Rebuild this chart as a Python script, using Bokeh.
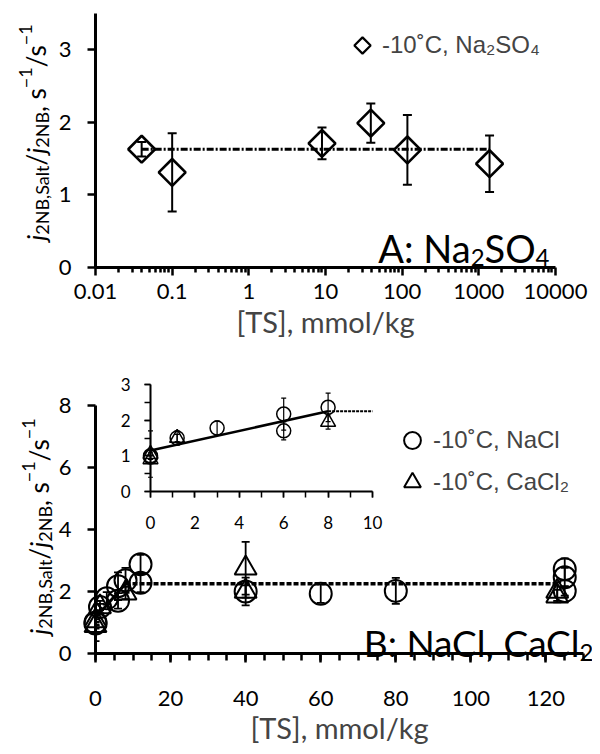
import glob
import os
import numpy as np
from bokeh.plotting import figure
from bokeh.layouts import column
from bokeh.core.properties import value
from bokeh.models import (ColumnDataSource, Whisker, TeeHead, Legend, LegendItem,
                          Range1d, LinearAxis, LinearScale, FixedTicker, SingleIntervalTicker,
                          PrintfTickFormatter)
from bokeh.embed import file_html
from bokeh.resources import INLINE

# ---------------- data ----------------
# Panel A: Na2SO4 at -10 C (log x axis)
a_ts = [0.04, 0.1, 9, 39, 117, 1380]
a_ratio = [1.63, 1.31, 1.71, 1.99, 1.62, 1.43]
a_err = [0.10, 0.54, 0.22, 0.27, 0.48, 0.39]
a_mean = 1.63
a_ticks = [0.01, 0.1, 1, 10, 100, 1000, 10000]
a_tick_labels = ["0.01", "0.1", "1", "10", "100", "1000", "10000"]
a_ymax_axis = 3.5

# Panel B: NaCl and CaCl2 at -10 C
nacl_ts = [0, 0, 1.2, 3, 6, 6, 8, 12, 12, 40, 60, 80, 125, 125, 125]
nacl_ratio = [1.0, 0.97, 1.5, 1.78, 2.17, 1.70, 2.36, 2.88, 2.28, 2.0, 1.93, 2.02, 2.72, 2.46, 2.02]
nacl_err = [0.10, 0.05, 0.10, 0.20, 0.45, 0.25, 0.40, 0.30, 0.30, 0.20, 0.30, 0.42, 0.35, 0.30, 0.15]
cacl2_ts = [0, 0, 1.2, 8, 40, 40, 123, 123]
cacl2_ratio = [1.05, 0.90, 1.5, 1.95, 2.75, 2.0, 2.0, 1.85]
cacl2_err = [0.65, 0.10, 0.20, 0.20, 0.85, 0.45, 0.30, 0.20]
fit_ts = [0, 8]
fit_ratio = [1.15, 2.25]
plateau_ts = [8, 123]
plateau_ratio = 2.25
b_xmax = 130
b_ymax_axis = 8
inset_max_ts = 10
inset_max_ratio = 3

X_LABEL = "[TS], mmol/kg"
LEG_A = "-10\u02daC, Na\u2082SO\u2084"
LEG_NACL = "-10\u02daC, NaCl"
LEG_CACL2 = "-10\u02daC, CaCl\u2082"

FONT = "Lato"
TICK_SIZE = "22px"

# ---------------- text measuring (for composed sub/superscript labels) ----------------
_cache = {}


def _font_path(style):
    name = "Lato-Italic.ttf" if style == "italic" else "Lato-Regular.ttf"
    if name in _cache:
        return _cache[name]
    path = None
    for root in ("/usr/share/fonts", "/usr/local/share/fonts",
                 os.path.expanduser("~/.fonts"), os.path.expanduser("~/.local/share/fonts")):
        hits = glob.glob(os.path.join(root, "**", name), recursive=True)
        if hits:
            path = hits[0]
            break
    _cache[name] = path
    return path


def text_width(text, size, style="normal"):
    try:
        from PIL import ImageFont
        path = _font_path(style)
        if path:
            return ImageFont.truetype(path, size).getlength(text)
    except Exception:
        pass
    return 0.55 * size * len(text)


def parts_width(parts):
    return sum(text_width(t, s, st) for t, s, st, _ in parts)


def rich_text(p, parts, x0, y0, rotated=False, center=False):
    """Compose text with sub/superscripts. Coordinates are pixels from the frame's
    bottom-left corner (through the 'px'/'py' ranges)."""
    adv = -parts_width(parts) / 2 if center else 0.0
    d = dict(x=[], y=[], text=[], size=[], style=[])
    for text, size, style, shift in parts:
        if rotated:
            d["x"].append(x0 - shift)
            d["y"].append(y0 + adv)
        else:
            d["x"].append(x0 + adv)
            d["y"].append(y0 + shift)
        d["text"].append(text)
        d["size"].append(f"{size}px")
        d["style"].append(style)
        adv += text_width(text, size, style)
    p.text("x", "y", text="text", source=ColumnDataSource(d), angle=np.pi / 2 if rotated else 0,
           text_font=value(FONT), text_font_size="size", text_font_style="style",
           text_align="left", text_baseline="alphabetic", text_color="black",
           x_range_name="px", y_range_name="py", level="overlay")


def y_label_parts():
    F, S = 26, 18
    return [("j", F, "italic", 0), ("2NB,Salt", S, "normal", -6), ("/", F, "normal", 0),
            ("j", F, "italic", 0), ("2NB", S, "normal", -6), (", s", F, "normal", 0),
            ("\u22121", S, "normal", 10), ("/s", F, "normal", 0), ("\u22121", S, "normal", 10)]


def style_axis(ax, tick_out, minor_out, standoff, size=TICK_SIZE, lw=3, tlw=2.5):
    ax.axis_line_width = lw
    ax.axis_line_color = "black"
    ax.major_tick_line_width = tlw
    ax.major_tick_line_color = "black"
    ax.major_tick_in = 0
    ax.major_tick_out = tick_out
    ax.minor_tick_in = 0
    ax.minor_tick_out = minor_out
    ax.minor_tick_line_width = tlw
    ax.minor_tick_line_color = "black" if minor_out > 0 else None
    ax.major_label_text_font = FONT
    ax.major_label_text_font_size = size
    ax.major_label_text_color = "black"
    ax.major_label_standoff = standoff


def base_style(p, fw, fh):
    p.xgrid.visible = False
    p.ygrid.visible = False
    p.outline_line_color = None
    p.background_fill_color = "white"
    p.border_fill_color = "white"
    # pixel ranges for placing texts relative to the frame
    p.extra_x_ranges["px"] = Range1d(0, fw)
    p.extra_y_ranges["py"] = Range1d(0, fh)
    p.extra_x_scales = {"px": LinearScale()}
    p.extra_y_scales = {"py": LinearScale()}


# ---------------- panel A ----------------
FL1, FW1, FT1, FH1, FB1, FR1 = 95, 460, 13, 254, 84, 37
p1 = figure(x_axis_type="log", x_range=Range1d(0.01, 10000), y_range=Range1d(0, a_ymax_axis),
            frame_width=FW1, frame_height=FH1, min_border_left=FL1, min_border_right=FR1,
            min_border_top=FT1, min_border_bottom=FB1, title=None,
            output_backend="svg", toolbar_location=None)
base_style(p1, FW1, FH1)
minors = [m * 10.0 ** k for k in range(-2, 4) for m in range(2, 10)]
p1.xaxis.ticker = FixedTicker(ticks=a_ticks, minor_ticks=minors)
p1.xaxis.formatter = PrintfTickFormatter(format="%g")
p1.xaxis.major_label_overrides = {t: lab for t, lab in zip(a_ticks, a_tick_labels)}
p1.yaxis.ticker = SingleIntervalTicker(interval=1, num_minor_ticks=0)
style_axis(p1.xaxis[0], 8, 5, 8)
style_axis(p1.yaxis[0], 8, 0, 16)
p1.xaxis.axis_label = X_LABEL
p1.xaxis.axis_label_text_font = FONT
p1.xaxis.axis_label_text_font_size = "29px"
p1.xaxis.axis_label_text_font_style = "normal"
p1.xaxis.axis_label_standoff = 2
p1.yaxis.axis_label = None

src_a = ColumnDataSource(dict(x=a_ts, y=a_ratio,
                              lo=list(np.array(a_ratio) - np.array(a_err)),
                              hi=list(np.array(a_ratio) + np.array(a_err))))
p1.line([min(a_ts), max(a_ts)], [a_mean, a_mean], line_color="black", line_width=3,
        line_dash="7 2 2 2")
p1.add_layout(Whisker(source=src_a, base="x", lower="lo", upper="hi", dimension="height",
                      line_color="black", line_width=2,
                      upper_head=TeeHead(size=9, line_width=2, line_color="black"),
                      lower_head=TeeHead(size=9, line_width=2, line_color="black")))
p1.scatter("x", "y", source=src_a, marker="square", angle=np.pi / 4, size=19,
           fill_alpha=0, line_color="black", line_width=2.6, level="overlay")
# legend: text through a Legend, symbol drawn at the legend's glyph slot
LEG_A_X, LEG_A_Y, LEG_A_G = 247, 202, 40
r_a_leg = p1.scatter(x=[], y=[], marker="diamond", fill_alpha=0, line_color="black")
leg_a = Legend(items=[LegendItem(label=LEG_A, renderers=[r_a_leg])],
               location=(LEG_A_X, LEG_A_Y),
               glyph_width=LEG_A_G, glyph_height=LEG_A_G, label_standoff=-4, padding=0,
               margin=0, spacing=0, border_line_color=None, background_fill_alpha=0,
               label_text_font="Liberation Sans", label_text_font_size="24px")
p1.add_layout(leg_a)
p1.scatter(x=[LEG_A_X + LEG_A_G / 2], y=[LEG_A_Y + LEG_A_G / 2], marker="square",
           angle=np.pi / 4, size=11.5, fill_alpha=0, line_color="black", line_width=2.2,
           x_range_name="px", y_range_name="py", level="overlay")
rich_text(p1, y_label_parts(), 35 - FL1, 135, rotated=True, center=True)
a_parts = [("A: Na", 38, "normal", 0), ("2", 24, "normal", -10),
           ("SO", 38, "normal", 0), ("4", 24, "normal", -10)]
rich_text(p1, a_parts, 549 - FL1 - parts_width(a_parts), 20)

# ---------------- panel B ----------------
FL2, FW2, FT2, FH2, FB2, FR2 = 92, 488, 19, 283, 99, 12
px_per_y = 31.0
b_yend = FH2 / px_per_y
p2 = figure(x_range=Range1d(0, b_xmax), y_range=Range1d(0, b_yend),
            frame_width=FW2, frame_height=FH2, min_border_left=FL2, min_border_right=FR2,
            min_border_top=FT2, min_border_bottom=FB2, title=None,
            output_backend="svg", toolbar_location=None)
base_style(p2, FW2, FH2)
p2.xaxis.ticker = SingleIntervalTicker(interval=20, num_minor_ticks=4)
p2.yaxis.ticker = SingleIntervalTicker(interval=2, num_minor_ticks=0)
p2.yaxis.bounds = (0, b_ymax_axis)
style_axis(p2.xaxis[0], 9, 7, 28)
style_axis(p2.yaxis[0], 8, 0, 16)
p2.xaxis.axis_label = X_LABEL
p2.xaxis.axis_label_text_font = FONT
p2.xaxis.axis_label_text_font_size = "29px"
p2.xaxis.axis_label_text_font_style = "normal"
p2.xaxis.axis_label_standoff = 1
p2.yaxis.axis_label = None

# inset placement (pixels inside the lower frame)
IN_LEFT, IN_W, IN_BOTTOM, IN_H = 55, 222, 162, 107
ppx = IN_W / inset_max_ts
ppy = IN_H / inset_max_ratio
ix0 = -IN_LEFT / ppx
iy0 = -IN_BOTTOM / ppy
p2.extra_x_ranges["ix"] = Range1d(ix0, ix0 + FW2 / ppx)
p2.extra_y_ranges["iy"] = Range1d(iy0, iy0 + FH2 / ppy)
p2.extra_x_scales = {"px": LinearScale(), "ix": LinearScale()}
p2.extra_y_scales = {"py": LinearScale(), "iy": LinearScale()}


def make_src(xs, ys, es, limit=None):
    x = np.array(xs, float)
    y = np.array(ys, float)
    e = np.array(es, float)
    if limit is not None:
        m = x <= limit
        x, y, e = x[m], y[m], e[m]
    return ColumnDataSource(dict(x=x, y=y, lo=y - e, hi=y + e))


src_nacl = make_src(nacl_ts, nacl_ratio, nacl_err)
src_cacl = make_src(cacl2_ts, cacl2_ratio, cacl2_err)
src_nacl_in = make_src(nacl_ts, nacl_ratio, nacl_err, inset_max_ts)
src_cacl_in = make_src(cacl2_ts, cacl2_ratio, cacl2_err, inset_max_ts)

# main lines
p2.line(fit_ts, fit_ratio, line_color="black", line_width=3)
p2.line(plateau_ts, [plateau_ratio] * 2, line_color="black", line_width=3.5, line_dash="5 2")

for s in (src_nacl, src_cacl):
    p2.add_layout(Whisker(source=s, base="x", lower="lo", upper="hi", dimension="height",
                          line_color="black", line_width=1.8,
                          upper_head=TeeHead(size=8, line_width=1.8, line_color="black"),
                          lower_head=TeeHead(size=8, line_width=1.8, line_color="black")))
r_nacl = p2.scatter("x", "y", source=src_nacl, marker="circle", size=22, fill_alpha=0,
                    line_color="black", line_width=2, level="overlay")
r_cacl = p2.scatter("x", "y", source=src_cacl, marker="triangle", size=22, fill_alpha=0,
                    line_color="black", line_width=2, level="overlay")

# inset
inset_kw = dict(x_range_name="ix", y_range_name="iy")
p2.line(fit_ts, fit_ratio, line_color="black", line_width=2.5, **inset_kw)
p2.line([fit_ts[-1], inset_max_ts], [plateau_ratio] * 2, line_color="black", line_width=2,
        line_dash="3 1", **inset_kw)
for s in (src_nacl_in, src_cacl_in):
    p2.add_layout(Whisker(source=s, base="x", lower="lo", upper="hi", dimension="height",
                          line_color="black", line_width=1.2,
                          upper_head=TeeHead(size=5, line_width=1.2, line_color="black"),
                          lower_head=TeeHead(size=5, line_width=1.2, line_color="black"),
                          **inset_kw))
p2.scatter("x", "y", source=src_nacl_in, marker="circle", size=14, fill_alpha=0,
           line_color="black", line_width=1.5, level="overlay", **inset_kw)
p2.scatter("x", "y", source=src_cacl_in, marker="triangle", size=15, fill_alpha=0,
           line_color="black", line_width=1.5, level="overlay", **inset_kw)

ax_ix = LinearAxis(fixed_location=0, bounds=(0, inset_max_ts),
                   ticker=SingleIntervalTicker(interval=2, num_minor_ticks=2), **inset_kw)
style_axis(ax_ix, 6, 6, 18, size="17px", lw=2, tlw=1.5)
ax_iy = LinearAxis(fixed_location=0, bounds=(0, inset_max_ratio),
                   ticker=SingleIntervalTicker(interval=1, num_minor_ticks=2), **inset_kw)
style_axis(ax_iy, 6, 6, 14, size="17px", lw=2, tlw=1.5)
p2.add_layout(ax_ix, "below")
p2.add_layout(ax_iy, "left")

leg_b = Legend(items=[LegendItem(label=LEG_NACL, renderers=[r_nacl]),
                      LegendItem(label=LEG_CACL2, renderers=[r_cacl])],
               location=(296, 150), glyph_width=42, glyph_height=42, label_standoff=-7,
               padding=0, margin=0, spacing=0, border_line_color=None,
               background_fill_alpha=0, label_text_font="Liberation Sans",
               label_text_font_size="24px")
p2.add_layout(leg_b)
rich_text(p2, y_label_parts(), 35 - FL2, 653 - 526, rotated=True, center=True)
b_parts = [("B: NaCl, CaCl", 37, "normal", 0), ("2", 24, "normal", -10)]
rich_text(p2, b_parts, 590 - FL2 - parts_width(b_parts), 11)

layout = column(p1, p2)
open("out.html", "w").write(file_html(layout, INLINE))
